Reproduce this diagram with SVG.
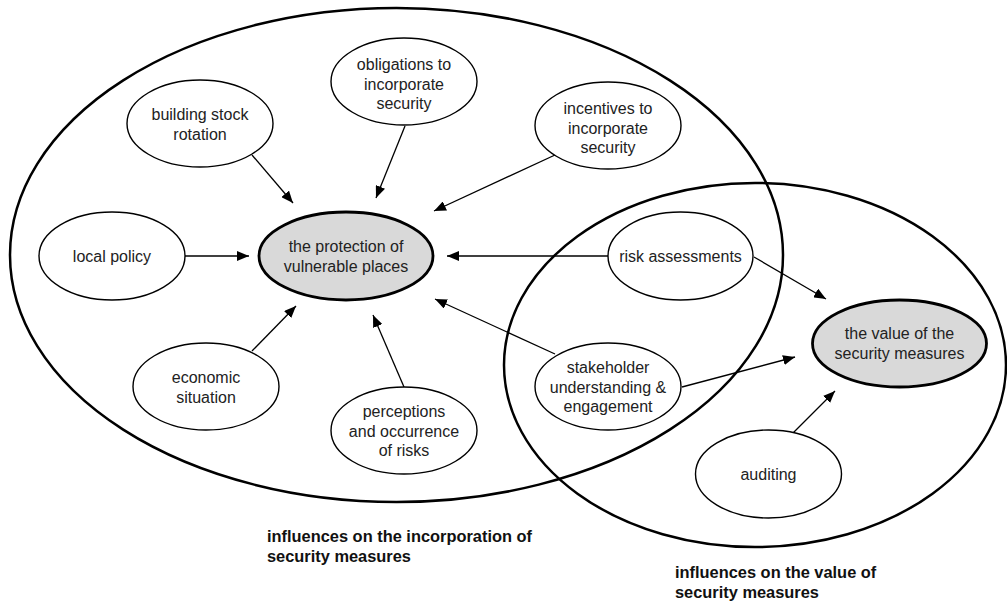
<svg xmlns="http://www.w3.org/2000/svg" width="1007" height="603" viewBox="0 0 1007 603">
<style>
.region{fill:none;stroke:#000;stroke-width:2.5}
.node{fill:#fff;stroke:#000;stroke-width:1.4}
.core{fill:#d9d9d9;stroke:#000;stroke-width:2.8}
.t{font-family:"Liberation Sans",Arial,sans-serif;font-size:16px;fill:#222;text-anchor:middle}
.lbl{font-family:"Liberation Sans",Arial,sans-serif;font-size:16.4px;font-weight:bold;fill:#111}
.c{stroke:#000;stroke-width:1.3;fill:none;marker-end:url(#ah)}
</style>
<defs>
<marker id="ah" viewBox="0 0 12 10" refX="12" refY="5" markerWidth="12" markerHeight="10" markerUnits="userSpaceOnUse" orient="auto">
<path d="M0,0 L12,5 L0,10 z" fill="#000"/>
</marker>
</defs>
<rect width="1007" height="603" fill="#fff"/>
<g id="regions">
<ellipse class="region" cx="396.5" cy="255" rx="386.5" ry="247"/>
<ellipse class="region" cx="755" cy="365" rx="251" ry="182"/>
<text class="lbl" x="267" y="542">influences on the incorporation of</text>
<text class="lbl" x="267" y="562">security measures</text>
<text class="lbl" x="675" y="578">influences on the value of</text>
<text class="lbl" x="675" y="598">security measures</text>
</g>
<g id="connectors">
<line class="c" x1="252" y1="155" x2="293" y2="203"/>
<line class="c" x1="405" y1="126" x2="376" y2="198"/>
<line class="c" x1="555" y1="155" x2="434" y2="211"/>
<line class="c" x1="185" y1="256" x2="249" y2="256"/>
<line class="c" x1="608" y1="256" x2="447" y2="256"/>
<line class="c" x1="252" y1="351" x2="296" y2="306"/>
<line class="c" x1="404" y1="387" x2="373" y2="315"/>
<line class="c" x1="555" y1="354" x2="435" y2="299"/>
<line class="c" x1="682" y1="387" x2="795" y2="357"/>
<line class="c" x1="754" y1="257" x2="826" y2="299"/>
<line class="c" x1="793" y1="433" x2="835" y2="391"/>
</g>
<g id="building-stock-rotation">
<ellipse class="node" cx="200" cy="123.5" rx="73" ry="43.5"/>
<text class="t" x="200" y="120">building stock</text>
<text class="t" x="200" y="139.5">rotation</text>
</g>
<g id="obligations">
<ellipse class="node" cx="404" cy="81.5" rx="73" ry="43.5"/>
<text class="t" x="404" y="70">obligations to</text>
<text class="t" x="404" y="89.5">incorporate</text>
<text class="t" x="404" y="109">security</text>
</g>
<g id="incentives">
<ellipse class="node" cx="608" cy="125.5" rx="73" ry="43.5"/>
<text class="t" x="608" y="114">incentives to</text>
<text class="t" x="608" y="133.5">incorporate</text>
<text class="t" x="608" y="153">security</text>
</g>
<g id="local-policy">
<ellipse class="node" cx="112" cy="256" rx="73" ry="44"/>
<text class="t" x="112" y="262">local policy</text>
</g>
<g id="protection">
<ellipse class="core" cx="346" cy="256" rx="87" ry="44"/>
<text class="t" x="346" y="252">the protection of</text>
<text class="t" x="346" y="271.5">vulnerable places</text>
</g>
<g id="risk-assessments">
<ellipse class="node" cx="680.5" cy="256" rx="72.5" ry="44"/>
<text class="t" x="680.5" y="262">risk assessments</text>
</g>
<g id="economic-situation">
<ellipse class="node" cx="206" cy="386.5" rx="73" ry="43.5"/>
<text class="t" x="206" y="383">economic</text>
<text class="t" x="206" y="402.5">situation</text>
</g>
<g id="perceptions">
<ellipse class="node" cx="404" cy="430.5" rx="73" ry="43.5"/>
<text class="t" x="404" y="417">perceptions</text>
<text class="t" x="404" y="436.5">and occurrence</text>
<text class="t" x="404" y="456">of risks</text>
</g>
<g id="stakeholder">
<ellipse class="node" cx="608" cy="386.5" rx="73" ry="43.5"/>
<text class="t" x="608" y="373">stakeholder</text>
<text class="t" x="608" y="392.5">understanding &amp;</text>
<text class="t" x="608" y="412">engagement</text>
</g>
<g id="value">
<ellipse class="core" cx="899.5" cy="343.5" rx="87" ry="43.5"/>
<text class="t" x="899.5" y="339">the value of the</text>
<text class="t" x="899.5" y="358.5">security measures</text>
</g>
<g id="auditing">
<ellipse class="node" cx="768.5" cy="474" rx="73" ry="44"/>
<text class="t" x="768.5" y="480">auditing</text>
</g>
</svg>
